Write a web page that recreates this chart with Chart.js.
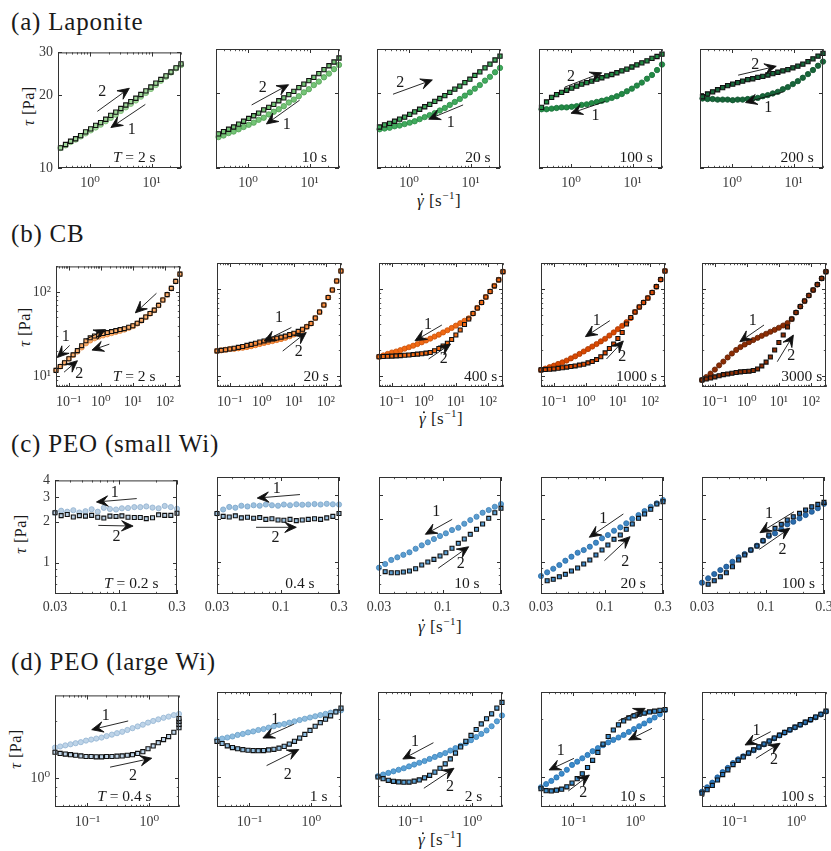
<!DOCTYPE html>
<html>
<head>
<meta charset="utf-8">
<script src="https://cdn.jsdelivr.net/npm/chart.js@4.4.0/dist/chart.umd.min.js"></script>
<style>
  body { margin: 0; width: 831px; height: 851px; position: relative; overflow: hidden; background: #fff;
         font-family: 'Liberation Serif', 'DejaVu Serif', serif; color: #1a1a1a; }
  .title { position: absolute; left: 11px; font-size: 25px; line-height: 25px; letter-spacing: 0.8px; white-space: nowrap; }
  .ylab { position: absolute; font-size: 16px; letter-spacing: 0.5px; white-space: nowrap;
          transform: translate(-50%, -50%) rotate(-90deg); }
  .xlab { position: absolute; font-size: 17px; letter-spacing: 0.5px; white-space: nowrap; transform: translate(-50%, -50%); }
  .gd { position: relative; display: inline-block; }
  .gd::after { content: ''; position: absolute; left: 4px; top: 2px; width: 2.4px; height: 2.4px; border-radius: 50%; background: #1a1a1a; }
  sup { font-size: 11px; }
</style>
</head>
<body>
<div class="title" style="top:9px">(a) Laponite</div>
<div class="title" style="top:221px">(b) CB</div>
<div class="title" style="top:431px">(c) PEO (small Wi)</div>
<div class="title" style="top:649px">(d) PEO (large Wi)</div>

<div class="ylab" style="left:29px;top:106px"><i>τ</i> [Pa]</div>
<div class="ylab" style="left:25px;top:327px"><i>τ</i> [Pa]</div>
<div class="ylab" style="left:21px;top:534px"><i>τ</i> [Pa]</div>
<div class="ylab" style="left:16px;top:749px"><i>τ</i> [Pa]</div>

<div class="xlab" style="left:439px;top:200px"><span class="gd"><i>γ</i></span> [s<sup>−1</sup>]</div>
<div class="xlab" style="left:441px;top:418px"><span class="gd"><i>γ</i></span> [s<sup>−1</sup>]</div>
<div class="xlab" style="left:440px;top:626px"><span class="gd"><i>γ</i></span> [s<sup>−1</sup>]</div>
<div class="xlab" style="left:440px;top:839px"><span class="gd"><i>γ</i></span> [s<sup>−1</sup>]</div>

<script>
// ---- (a) Laponite ----
const rateLap = [0.33, 0.398, 0.481, 0.58, 0.7, 0.844, 1.02, 1.23, 1.48, 1.79, 2.16, 2.61, 3.15, 3.8, 4.58, 5.53, 6.67, 8.05, 9.71, 11.7, 14.1, 17.1, 20.6, 24.9, 30];
const lapT = ['T = 2 s', '10 s', '20 s', '100 s', '200 s'];
// sweep 2 (up, squares)
const lapUp = [
  [12.1, 12.5, 12.9, 13.2, 13.6, 14.1, 14.5, 15.0, 15.4, 15.9, 16.5, 17.0, 17.6, 18.2, 18.8, 19.4, 20.1, 20.8, 21.6, 22.4, 23.2, 24.0, 24.9, 25.9, 26.9],
  [13.7, 14.0, 14.3, 14.6, 15.0, 15.4, 15.8, 16.2, 16.6, 17.1, 17.5, 18.0, 18.6, 19.1, 19.7, 20.3, 21.0, 21.7, 22.4, 23.1, 23.9, 24.8, 25.7, 26.6, 27.6],
  [14.6, 14.9, 15.1, 15.4, 15.7, 16.0, 16.4, 16.8, 17.2, 17.6, 18.0, 18.5, 19.0, 19.5, 20.1, 20.7, 21.3, 22.0, 22.7, 23.5, 24.3, 25.2, 26.1, 27.1, 28.1],
  [17.5, 18.4, 19.2, 19.7, 20.1, 20.5, 20.9, 21.3, 21.7, 22.0, 22.3, 22.7, 23.0, 23.4, 23.7, 24.1, 24.5, 24.9, 25.4, 25.9, 26.4, 26.9, 27.5, 28.0, 28.6],
  [19.3, 19.8, 20.2, 20.6, 21.0, 21.4, 21.7, 22.0, 22.3, 22.6, 22.8, 23.1, 23.3, 23.6, 23.9, 24.2, 24.5, 24.8, 25.2, 25.6, 26.1, 26.7, 27.4, 28.1, 28.8]
];
// sweep 1 (down, circles)
const lapDown = [
  [12.1, 12.4, 12.8, 13.1, 13.5, 13.9, 14.3, 14.7, 15.1, 15.6, 16.1, 16.6, 17.2, 17.8, 18.4, 19.0, 19.7, 20.4, 21.2, 22.0, 22.9, 23.8, 24.8, 25.8, 26.6],
  [13.3, 13.5, 13.8, 14.0, 14.3, 14.6, 14.9, 15.2, 15.6, 15.9, 16.4, 16.8, 17.2, 17.7, 18.3, 18.8, 19.4, 20.1, 20.7, 21.5, 22.2, 23.1, 23.9, 24.9, 25.9],
  [14.3, 14.4, 14.5, 14.7, 14.8, 15.0, 15.2, 15.4, 15.7, 16.0, 16.3, 16.6, 17.0, 17.4, 17.9, 18.4, 18.9, 19.5, 20.1, 20.8, 21.5, 22.4, 23.2, 24.2, 25.2],
  [17.2, 17.2, 17.3, 17.4, 17.5, 17.5, 17.6, 17.7, 17.9, 18.0, 18.2, 18.4, 18.6, 18.8, 19.1, 19.4, 19.8, 20.3, 20.8, 21.4, 22.0, 22.8, 23.6, 24.7, 26.0],
  [19.0, 18.9, 18.9, 18.8, 18.8, 18.8, 18.7, 18.8, 18.8, 18.9, 19.0, 19.1, 19.4, 19.6, 19.9, 20.2, 20.7, 21.1, 21.7, 22.3, 23.0, 23.8, 24.7, 25.7, 26.7]
];
const lapXTicks = [1, 10], lapXLabels = ['10⁰', '10¹'];
const lapYTicks = [10, 20, 30], lapYLabels = ['10', '20', '30'];

// ---- (b) CB ----
const rateCB = [0.04, 0.0544, 0.074, 0.101, 0.137, 0.186, 0.253, 0.344, 0.468, 0.637, 0.866, 1.18, 1.6, 2.18, 2.96, 4.03, 5.48, 7.46, 10.1, 13.8, 18.8, 25.5, 34.7, 47.2, 64.2, 87.3, 119, 161, 220, 299];
const cbT = ['T = 2 s', '20 s', '400 s', '1000 s', '3000 s'];
const cbUp = [
  [11.8, 13.1, 14.5, 16.2, 18.0, 20.2, 23.1, 26.4, 28.6, 30.1, 31.3, 32.2, 33.0, 33.9, 34.8, 35.8, 36.7, 38.2, 39.8, 42.5, 46.0, 50.5, 55.4, 60.8, 69.3, 80.2, 92.8, 110, 133, 162],
  [19.5, 19.8, 20.1, 20.5, 20.9, 21.4, 21.9, 22.6, 23.2, 23.9, 24.7, 25.4, 26.1, 26.7, 27.4, 28.1, 28.9, 30.0, 31.2, 32.7, 34.6, 37.0, 40.3, 46.6, 54.6, 65.8, 80.2, 97.8, 124, 162],
  [16.7, 16.8, 16.9, 17.0, 17.1, 17.2, 17.4, 17.5, 17.7, 17.9, 18.1, 18.4, 18.7, 19.6, 20.8, 22.2, 23.9, 26.4, 29.7, 33.9, 39.3, 45.4, 52.5, 60.8, 70.3, 81.3, 94.0, 109, 128, 159],
  [11.8, 11.9, 12.0, 12.1, 12.3, 12.5, 12.7, 12.9, 13.1, 13.4, 13.7, 14.2, 14.7, 15.5, 16.7, 18.5, 20.8, 23.4, 27.1, 31.8, 39.8, 47.2, 54.6, 62.4, 70.3, 79.2, 91.6, 107, 129, 162],
  [9.03, 9.27, 9.52, 9.8, 10.1, 10.4, 10.6, 10.8, 11.0, 11.2, 11.3, 11.4, 11.6, 12.1, 13.1, 14.5, 16.6, 20.0, 24.4, 29.7, 36.7, 45.4, 53.9, 63.2, 73.1, 84.6, 97.8, 113, 133, 159]
];
const cbDown = [
  [11.8, 13.1, 14.5, 16.2, 17.9, 19.7, 22.0, 24.6, 26.6, 28.2, 29.5, 30.5, 31.4, 32.5, 33.5, 34.6, 35.8, 37.5, 39.3, 42.2, 45.8, 50.4, 55.3, 60.7, 69.3, 80.2, 92.8, 110, 133, 162],
  [19.5, 19.8, 20.1, 20.5, 20.6, 20.9, 21.2, 21.6, 22.1, 22.7, 23.4, 24.1, 24.7, 25.3, 26.0, 26.7, 27.6, 28.7, 30.1, 31.9, 34.0, 37.0, 40.3, 46.6, 54.6, 65.8, 80.2, 97.8, 124, 162],
  [16.7, 17.3, 18.0, 18.7, 19.2, 19.9, 20.7, 21.5, 22.4, 23.4, 24.5, 25.7, 27.0, 28.5, 30.0, 31.8, 33.7, 35.8, 38.1, 40.6, 43.3, 46.2, 52.5, 60.8, 70.3, 81.3, 94.0, 109, 128, 159],
  [11.8, 12.2, 12.7, 13.2, 13.8, 14.4, 15.1, 16.0, 16.9, 18.0, 19.2, 20.5, 21.9, 23.4, 25.1, 26.9, 29.3, 31.8, 34.7, 37.9, 41.7, 46.6, 54.6, 62.4, 70.3, 79.2, 91.6, 107, 129, 162],
  [9.03, 9.77, 10.7, 11.9, 13.3, 14.7, 16.4, 18.2, 20.0, 21.6, 23.1, 24.6, 26.0, 27.6, 29.1, 30.7, 32.4, 34.1, 36.0, 38.2, 40.8, 45.4, 53.9, 63.2, 73.1, 84.6, 97.8, 113, 133, 159]
];
const cbXTicks = [0.1, 1, 10, 100], cbXLabels = ['10⁻¹', '10⁰', '10¹', '10²'];
const cbYTicks = [10, 100], cbYLabels = ['10¹', '10²'];

// ---- (c) PEO small Wi ----
const rateSmall = [0.03, 0.0337, 0.0378, 0.0424, 0.0475, 0.0533, 0.0599, 0.0672, 0.0754, 0.0846, 0.0949, 0.106, 0.119, 0.134, 0.15, 0.168, 0.189, 0.212, 0.238, 0.267, 0.3];
const smallT = ['T = 0.2 s', '0.4 s', '10 s', '20 s', '100 s'];
const smallUp = [
  [2.32, 2.21, 2.25, 2.16, 2.21, 2.19, 2.22, 2.15, 2.12, 2.19, 2.18, 2.20, 2.15, 2.14, 2.14, 2.10, 2.13, 2.24, 2.22, 2.22, 2.30],
  [2.20, 2.10, 2.08, 2.12, 2.05, 2.07, 2.04, 2.06, 2.00, 2.02, 1.98, 1.97, 2.00, 1.96, 1.98, 2.00, 2.02, 2.00, 2.05, 2.10, 2.20],
  [null, 0.85, 0.836, 0.836, 0.846, 0.86, 0.892, 0.948, 0.996, 1.04, 1.098, 1.159, 1.246, 1.352, 1.45, 1.566, 1.70, 1.853, 2.034, 2.23, 2.396],
  [null, 0.733, 0.75, 0.783, 0.814, 0.86, 0.903, 0.964, 1.029, 1.116, 1.211, 1.315, 1.443, 1.548, 1.70, 1.853, 2.034, 2.183, 2.357, 2.57, 2.668],
  [null, 0.692, 0.733, 0.783, 0.836, 0.922, 1.029, 1.116, 1.211, 1.293, 1.41, 1.548, 1.727, 1.844, 1.978, 2.088, 2.208, 2.33, 2.458, 2.557, 2.642]
];
const smallDown = [
  [2.32, 2.40, 2.36, 2.42, 2.33, 2.38, 2.46, 2.36, 2.52, 2.47, 2.45, 2.50, 2.51, 2.55, 2.55, 2.58, 2.53, 2.50, 2.60, 2.55, 2.48],
  [2.20, 2.35, 2.45, 2.42, 2.50, 2.47, 2.52, 2.50, 2.55, 2.52, 2.50, 2.55, 2.52, 2.56, 2.54, 2.55, 2.57, 2.55, 2.58, 2.56, 2.55],
  [0.907, 0.964, 1.03, 1.075, 1.12, 1.167, 1.237, 1.308, 1.374, 1.45, 1.523, 1.592, 1.68, 1.744, 1.862, 1.978, 2.088, 2.23, 2.33, 2.458, 2.57],
  [0.792, 0.841, 0.892, 0.948, 1.017, 1.086, 1.159, 1.211, 1.279, 1.365, 1.467, 1.548, 1.661, 1.756, 1.875, 2.021, 2.147, 2.292, 2.458, 2.6, 2.744],
  [0.71, 0.763, 0.818, 0.873, 0.922, 1.0, 1.075, 1.135, 1.211, 1.3, 1.41, 1.523, 1.592, 1.70, 1.844, 1.924, 2.034, 2.147, 2.266, 2.40, 2.58]
];
const smallXTicks = [0.03, 0.1, 0.3], smallXLabels = ['0.03', '0.1', '0.3'];
const smallYTicks = [1, 2, 3, 4], smallYLabels = ['1', '2', '3', '4'];

// ---- (d) PEO large Wi ----
const rateLarge = [0.03, 0.0363, 0.044, 0.0533, 0.0646, 0.0783, 0.0949, 0.115, 0.139, 0.169, 0.204, 0.248, 0.3, 0.364, 0.44, 0.533, 0.646, 0.783, 0.949, 1.15, 1.39, 1.69, 2.04, 2.48, 3.0];
const largeT = ['T = 0.4 s', '1 s', '2 s', '10 s', '100 s'];
const largeUp = [
  [1.37, 1.35, 1.34, 1.33, 1.32, 1.31, 1.30, 1.30, 1.295, 1.295, 1.30, 1.30, 1.305, 1.31, 1.32, 1.33, 1.35, 1.38, 1.43, 1.48, 1.54, 1.60, 1.66, 1.75, 1.85],
  [1.53, 1.49, 1.45, 1.42, 1.40, 1.385, 1.375, 1.37, 1.368, 1.37, 1.38, 1.39, 1.41, 1.44, 1.48, 1.53, 1.59, 1.66, 1.74, 1.83, 1.91, 1.99, 2.07, 2.17, 2.27],
  [1.0, 0.98, 0.962, 0.95, 0.943, 0.94, 0.942, 0.952, 0.966, 0.99, 1.02, 1.06, 1.11, 1.17, 1.24, 1.33, 1.43, 1.53, 1.64, 1.76, 1.88, 2.0, 2.12, 2.27, 2.43],
  [0.87, 0.85, 0.848, 0.855, 0.865, 0.89, 0.93, 0.98, 1.04, 1.12, 1.22, 1.34, 1.48, 1.62, 1.75, 1.86, 1.95, 2.02, 2.07, 2.11, 2.14, 2.17, 2.19, 2.21, 2.23],
  [0.825, 0.86, 0.905, 0.965, 1.03, 1.09, 1.16, 1.22, 1.27, 1.33, 1.38, 1.43, 1.48, 1.535, 1.59, 1.645, 1.70, 1.755, 1.81, 1.865, 1.92, 1.98, 2.04, 2.11, 2.19]
];
// extra points held at the top rate (T = 0.4 s)
const largeTail = [[1.93, 2.0, 2.07], [], [], [], []];
const largeDown = [
  [1.45, 1.47, 1.49, 1.51, 1.53, 1.55, 1.58, 1.60, 1.62, 1.64, 1.67, 1.70, 1.73, 1.76, 1.80, 1.84, 1.88, 1.92, 1.97, 2.01, 2.05, 2.09, 2.12, 2.16, 2.19],
  [1.56, 1.58, 1.60, 1.62, 1.65, 1.67, 1.70, 1.72, 1.75, 1.77, 1.80, 1.83, 1.86, 1.88, 1.91, 1.94, 1.97, 2.00, 2.03, 2.06, 2.09, 2.12, 2.15, 2.18, 2.21],
  [1.01, 1.03, 1.05, 1.07, 1.09, 1.11, 1.135, 1.16, 1.185, 1.21, 1.24, 1.27, 1.30, 1.33, 1.37, 1.41, 1.45, 1.50, 1.55, 1.61, 1.67, 1.74, 1.83, 1.94, 2.08],
  [0.885, 0.92, 0.955, 0.995, 1.04, 1.09, 1.155, 1.20, 1.25, 1.30, 1.36, 1.41, 1.46, 1.51, 1.555, 1.60, 1.65, 1.71, 1.77, 1.83, 1.89, 1.96, 2.03, 2.11, 2.22],
  [0.84, 0.885, 0.935, 0.995, 1.06, 1.115, 1.18, 1.235, 1.28, 1.33, 1.375, 1.425, 1.475, 1.53, 1.585, 1.64, 1.695, 1.75, 1.805, 1.86, 1.915, 1.975, 2.035, 2.105, 2.18]
];
const largeXTicks = [0.1, 1], largeXLabels = ['10⁻¹', '10⁰'];
const largeYTicks = [1], largeYLabels = ['10⁰'];

// annotation arrows / labels, in fractions of the axes box (from left, from bottom)
const lapArrows = [
  [[.32, .49, .58, .69], [.71, .55, .43, .35]],
  [[.29, .53, .59, .70], [.68, .57, .41, .37]],
  [[.13, .62, .45, .74], [.70, .53, .42, .41]],
  [[.21, .68, .51, .80], [.54, .56, .26, .46]],
  [[.31, .78, .62, .855], [.68, .64, .37, .55]]
];
const lapNums = [
  [['2', .36, .66], ['1', .60, .33]],
  [['2', .38, .67], ['1', .575, .36]],
  [['2', .19, .72], ['1', .60, .38]],
  [['2', .26, .77], ['1', .46, .44]],
  [['2', .45, .87], ['1', .555, .51]]
];
const cbArrows = [
  [[.24, .395, .40, .476], [.43, .355, .29, .306], [.81, .777, .64, .615], [.11, .344, .01, .244], [.065, .123, .173, .218]],
  [[.60, .48, .38, .37], [.53, .29, .72, .44]],
  [[.507, .50, .29, .373], [.40, .226, .577, .347]],
  [[.555, .535, .358, .406], [.528, .226, .664, .371]],
  [[.50, .50, .305, .365], [.607, .204, .737, .419]]
];
const cbNums = [
  [['1', .079, .419], ['2', .187, .11]],
  [['1', .50, .56], ['2', .66, .28]],
  [['1', .396, .50], ['2', .523, .226]],
  [['1', .45, .532], ['2', .656, .24]],
  [['1', .41, .532], ['2', .72, .25]]
];
const smallArrows = [
  [[.67, .84, .34, .81], [.355, .604, .64, .598]],
  [[.68, .85, .33, .82], [.32, .57, .65, .57]],
  [[.60, .638, .38, .51], [.485, .22, .735, .404]],
  [[.675, .684, .396, .485], [.52, .285, .73, .49]],
  [[.754, .703, .475, .524], [.47, .382, .72, .562]]
];
const smallNums = [
  [['1', .49, .89], ['2', .505, .504]],
  [['1', .49, .90], ['2', .48, .48]],
  [['1', .47, .70], ['2', .67, .26]],
  [['1', .51, .64], ['2', .69, .276]],
  [['1', .55, .684], ['2', .66, .382]]
];
const largeArrows = [
  [[.59, .771, .296, .693], [.444, .357, .78, .437]],
  [[.62, .72, .37, .60], [.40, .36, .66, .50]],
  [[.447, .559, .2, .417], [.37, .163, .613, .337]],
  [[.266, .423, .065, .322], [.22, .139, .39, .278], [.624, .75, .84, .858], [.895, .684, .707, .583]],
  [[.554, .655, .347, .539], [.435, .423, .63, .554]]
];
const largeNums = [
  [['1', .41, .815], ['2', .63, .278]],
  [['1', .47, .76], ['2', .57, .28]],
  [['1', .298, .568], ['2', .58, .177]],
  [['1', .159, .49], ['2', .34, .124]],
  [['1', .44, .663], ['2', .58, .409]]
];

const rows = [
  { x: rateLap, up: lapUp, down: lapDown, T: lapT, tfx: [.62, .80, .82, .79, .79],
    xr: [0.33, 30], yr: [10, 30], xt: lapXTicks, xl: lapXLabels, yt: lapYTicks, yl: lapYLabels, xpad: 7,
    lefts: [58, 216, 377, 539, 700], top: 49, w: 123, h: 119, sq: 3.0, ci: 2.7,
    fill: ['#a1d99b', '#74c476', '#41ab5d', '#238b45', '#17663a'],
    edge: ['#79b872', '#4f9e52', '#2b8a45', '#17703a', '#0d4f2a'],
    arrows: lapArrows, nums: lapNums },
  { x: rateCB, up: cbUp, down: cbDown, T: cbT, tfx: [.63, .80, .82, .77, .805],
    xr: [0.04, 300], yr: [7.5, 200], xt: cbXTicks, xl: cbXLabels, yt: cbYTicks, yl: cbYLabels, xpad: 7,
    lefts: [56, 217, 379, 541, 702], top: 263, w: 124, h: 124, sq: 2.8, ci: 2.6,
    fill: ['#fdae6b', '#fd8d3c', '#f16913', '#d94801', '#8c2d04'],
    edge: ['#e08a45', '#d96c1f', '#c9520b', '#a83701', '#5e1e02'],
    arrows: cbArrows, nums: cbNums },
  { x: rateSmall, up: smallUp, down: smallDown, T: smallT, tfx: [.625, .68, .72, .755, .79],
    xr: [0.03, 0.3], yr: [0.59, 4], xt: smallXTicks, xl: smallXLabels, yt: smallYTicks, yl: smallYLabels, xpad: 5,
    lefts: [55, 217, 379, 541, 702], top: 477, w: 122, h: 117, sq: 2.8, ci: 2.6,
    fill: ['#b9cfe3', '#9cc0de', '#5b9dd0', '#3f88c5', '#2a6cad'],
    edge: ['#8fb0cf', '#78a4c9', '#3f80b5', '#2a6ca6', '#1b4f85'],
    arrows: smallArrows, nums: smallNums },
  { x: rateLarge, up: largeUp, down: largeDown, T: largeT, tfx: [.56, .82, .77, .74, .77], tail: largeTail,
    xr: [0.03, 3], yr: [0.73, 2.75], xt: largeXTicks, xl: largeXLabels, yt: largeYTicks, yl: largeYLabels, xpad: 7,
    lefts: [55, 217, 378, 541, 702], top: 692, w: 124, h: 115, sq: 2.9, ci: 2.6,
    fill: ['#bed4e8', '#8fbde0', '#5aa1d6', '#3a8bcb', '#2a76ba'],
    edge: ['#94b5d3', '#6a9fc7', '#3c84bb', '#246fae', '#1a5690'],
    arrows: largeArrows, nums: largeNums }
];

const FONT = "'Liberation Serif', 'DejaVu Serif', serif";

function logTicks(min, max) {
  const out = [];
  for (let e = Math.floor(Math.log10(min)); e <= Math.floor(Math.log10(max)); e++) {
    for (let m = 1; m <= 9; m++) {
      const v = m * Math.pow(10, e);
      if (v >= min * 0.999 && v <= max * 1.001) out.push(v);
    }
  }
  return out;
}

function arrow(ctx, x1, y1, x2, y2) {
  const ang = Math.atan2(y2 - y1, x2 - x1), L = 11.5, W = 5.2;
  const c = Math.cos(ang), s = Math.sin(ang);
  ctx.beginPath();
  ctx.moveTo(x1, y1);
  ctx.lineTo(x2 - c * L * 0.6, y2 - s * L * 0.6);
  ctx.stroke();
  const bx = x2 - c * L, by = y2 - s * L;
  ctx.beginPath();
  ctx.moveTo(x2, y2);
  ctx.lineTo(bx - s * W, by + c * W);
  ctx.lineTo(x2 - c * L * 0.6, y2 - s * L * 0.6);
  ctx.lineTo(bx + s * W, by - c * W);
  ctx.closePath();
  ctx.fill();
  ctx.stroke();
}

function makeFrame(row, i) {
  return {
    id: 'frame',
    afterDatasetsDraw(chart) {
      const { ctx, chartArea: a, scales: { x, y } } = chart;
      const X = f => a.left + f * (a.right - a.left);
      const Y = f => a.bottom - f * (a.bottom - a.top);
      const isMajor = (v, list) => list.some(t => Math.abs(Math.log10(v / t)) < 1e-6);
      ctx.save();
      ctx.strokeStyle = '#2b2b2b';
      ctx.lineWidth = 0.8;
      ctx.beginPath();
      logTicks(row.xr[0], row.xr[1]).concat(row.xt).forEach(v => {
        const p = Math.round(x.getPixelForValue(v)) + 0.5;
        const len = isMajor(v, row.xt) ? 4 : 2.2;
        ctx.moveTo(p, a.bottom); ctx.lineTo(p, a.bottom - len);
        ctx.moveTo(p, a.top); ctx.lineTo(p, a.top + len);
      });
      logTicks(row.yr[0], row.yr[1]).concat(row.yt).forEach(v => {
        const p = Math.round(y.getPixelForValue(v)) + 0.5;
        const len = isMajor(v, row.yt) ? 4 : 2.2;
        ctx.moveTo(a.left, p); ctx.lineTo(a.left + len, p);
        ctx.moveTo(a.right, p); ctx.lineTo(a.right - len, p);
      });
      ctx.stroke();
      ctx.lineWidth = 1;
      ctx.strokeStyle = '#333';
      ctx.strokeRect(a.left + 0.5, a.top + 0.5, a.right - a.left - 1, a.bottom - a.top - 1);

      // arrows and sweep numbers
      ctx.strokeStyle = '#111';
      ctx.fillStyle = '#111';
      ctx.lineWidth = 0.9;
      ctx.lineJoin = 'miter';
      row.arrows[i].forEach(r => arrow(ctx, X(r[0]), Y(r[1]), X(r[2]), Y(r[3])));
      ctx.font = `16px ${FONT}`;
      ctx.textAlign = 'center';
      ctx.textBaseline = 'middle';
      ctx.fillStyle = '#1a1a1a';
      row.nums[i].forEach(n => ctx.fillText(n[0], X(n[1]), Y(n[2])));

      // period label
      const txt = row.T[i], ty = a.bottom - 10, cx = X(row.tfx[i]);
      const fs = 15.5;
      ctx.textAlign = 'left';
      if (txt.startsWith('T')) {
        const rest = txt.slice(1);
        ctx.font = `italic ${fs}px ${FONT}`;
        const w1 = ctx.measureText('T').width;
        ctx.font = `${fs}px ${FONT}`;
        const w2 = ctx.measureText(rest).width;
        const sx = cx - (w1 + w2) / 2;
        ctx.font = `italic ${fs}px ${FONT}`;
        ctx.fillText('T', sx, ty);
        ctx.font = `${fs}px ${FONT}`;
        ctx.fillText(rest, sx + w1, ty);
      } else {
        ctx.font = `${fs}px ${FONT}`;
        ctx.textAlign = 'center';
        ctx.fillText(txt, cx, ty);
      }
      ctx.restore();
    }
  };
}

function panel(row, i) {
  const padL = 45, padT = 10, padR = 18, padB = 30;
  const cw = row.w + padL + padR, ch = row.h + padT + padB;
  const cv = document.createElement('canvas');
  cv.width = cw; cv.height = ch;
  cv.style.cssText = `position:absolute;left:${row.lefts[i] - padL}px;top:${row.top - padT}px;width:${cw}px;height:${ch}px`;
  document.body.appendChild(cv);

  const pts = ys => row.x.map((x, k) => ({ x, y: ys[k] })).filter(p => p.y != null);
  const upPts = pts(row.up[i]);
  if (row.tail) row.tail[i].forEach(v => upPts.push({ x: row.x[row.x.length - 1], y: v }));
  const tickFont = { family: FONT, size: 14 };

  new Chart(cv, {
    type: 'scatter',
    data: {
      datasets: [
        { data: upPts, pointStyle: 'rect', pointRadius: row.sq, backgroundColor: row.fill[i],
          borderColor: '#111', borderWidth: 1.1, clip: false },
        { data: pts(row.down[i]), pointStyle: 'circle', pointRadius: row.ci, backgroundColor: row.fill[i],
          borderColor: row.edge[i], borderWidth: 0.8, clip: false }
      ]
    },
    options: {
      responsive: false,
      animation: false,
      devicePixelRatio: 1,
      events: [],
      layout: { padding: { left: 0, top: padT, right: padR, bottom: 0 } },
      plugins: { legend: { display: false }, tooltip: { enabled: false } },
      scales: {
        x: {
          type: 'logarithmic', min: row.xr[0], max: row.xr[1],
          grid: { display: false, drawTicks: false }, border: { display: false },
          afterBuildTicks: s => { s.ticks = row.xt.map(v => ({ value: v })); },
          afterFit: s => { s.height = padB; },
          ticks: { autoSkip: false, maxRotation: 0, padding: row.xpad, color: '#3a3a3a', font: tickFont,
                   callback: (v, k) => row.xl[k] }
        },
        y: {
          type: 'logarithmic', min: row.yr[0], max: row.yr[1],
          grid: { display: false, drawTicks: false }, border: { display: false },
          afterBuildTicks: s => { s.ticks = row.yt.map(v => ({ value: v })); },
          afterFit: s => { s.width = padL; },
          ticks: { display: i === 0, autoSkip: false, padding: 5, color: '#3a3a3a', font: tickFont,
                   callback: (v, k) => row.yl[k] }
        }
      }
    },
    plugins: [makeFrame(row, i)]
  });
}

rows.forEach(row => row.lefts.forEach((_, i) => panel(row, i)));
</script>
</body>
</html>
